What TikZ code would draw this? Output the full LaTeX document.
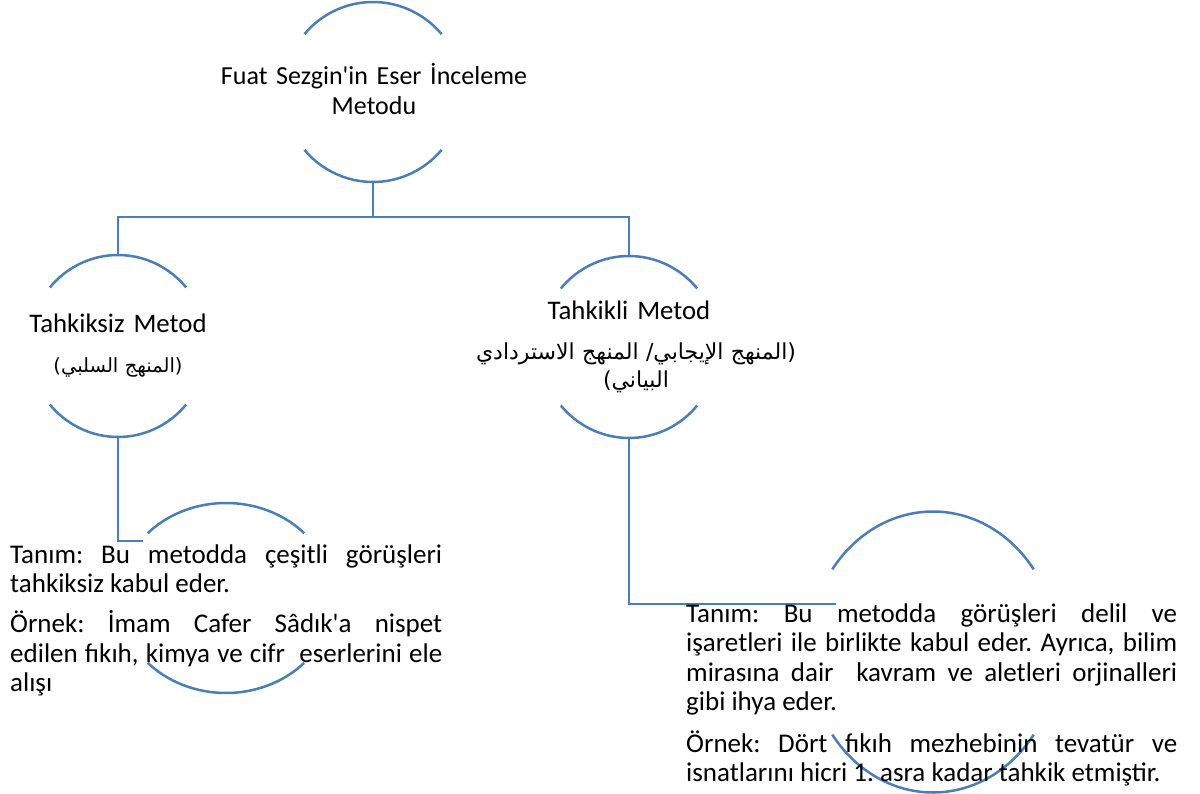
\documentclass[tikz,border=0pt]{standalone}
\usepackage{fontspec}
\setmainfont{Carlito}
\newfontfamily\arabicfont[Script=Arabic]{DejaVu Sans}
\TeXXeTstate=1
\usetikzlibrary{shapes.geometric}
\definecolor{arcblue}{RGB}{74,126,187}
\newcommand\twoarcs[4]{%
  \draw[arcline] (#1.center) ++(#4:#2 and #3) arc[start angle=#4, end angle=180-#4, x radius=#2, y radius=#3];
  \draw[arcline] (#1.center) ++(180+#4:#2 and #3) arc[start angle=180+#4, end angle=360-#4, x radius=#2, y radius=#3];}
\begin{document}
\begin{tikzpicture}[x=1pt,y=1pt,
  arcline/.style={draw=arcblue, line width=2.5pt},
  conn/.style={draw=arcblue, line width=2.8pt},
  holder/.style={ellipse, draw=none, inner sep=0pt, outer sep=0pt},
  lbl/.style={inner sep=0pt, font=\fontsize{26.8}{29}\selectfont, text width=420pt, align=center},
  arab/.style={inner sep=0pt, text width=420pt, align=center},
  body/.style={inner sep=0pt, font=\fontsize{27}{29.5}\selectfont, align=justify}]
\useasboundingbox (0,0) rectangle (1200,-794);

% invisible holders for the arc shapes
\node[holder, minimum width=179pt, minimum height=180pt] (root) at (373,-92) {};
\node[holder, minimum width=178pt, minimum height=182pt] (left) at (118,-346) {};
\node[holder, minimum width=178pt, minimum height=182pt] (right) at (629,-347) {};
\node[holder, minimum width=214pt, minimum height=190pt] (left3) at (226,-598) {};
\node[holder, minimum width=249pt, minimum height=281pt] (right3) at (933,-652) {};

\twoarcs{root}{89.5}{90}{40}
\twoarcs{left}{89}{91}{40}
\twoarcs{right}{89}{91}{40}
\twoarcs{left3}{107}{95}{43}
\twoarcs{right3}{124.5}{140.5}{36}

% connectors
\coordinate (lend) at (143,-541);
\coordinate (rend) at (836,-604);
\draw[conn] (root.south) -- ++(0,-35) coordinate (bar) -| (left.north);
\draw[conn] (bar) -| (right.north);
\draw[conn] (left.south) |- (lend);
\draw[conn] (right.south) |- (rend);

% labels
\node[lbl, anchor=base, font=\fontsize{26}{29.5}\selectfont] (roottxt) at (374,-85) {Fuat Sezgin\textquotesingle in Eser İnceleme\\Metodu};
\node[lbl, anchor=base] (lefttxt) at (118,-333) {Tahkiksiz Metod};
\node[arab, anchor=base, font=\arabicfont\fontsize{19.5}{28}\selectfont] (leftar) at (118,-373) {\beginR(المنهج السلبي)\endR};
\node[lbl, anchor=base] (righttxt) at (629,-320) {Tahkikli Metod};
\node[arab, anchor=base, font=\arabicfont\fontsize{22}{28}\selectfont] (rightar) at (636,-360) {\beginR(المنهج الإيجابي/ المنهج الاستردادي\endR\\\beginR البياني)\endR};

\node[body, anchor=base west, text width=432pt] (ldef) at (10,-563) {\frenchspacing\hyphenpenalty=10000\tolerance=9999\emergencystretch=20pt
Tanım: Bu metodda çeşitli görüşleri\linebreak tahkiksiz kabul eder.\par\vspace{10.5pt}
Örnek: İmam Cafer Sâdık\textquotesingle a nispet\linebreak edilen fıkıh, kimya ve cifr\ \ eserlerini ele\linebreak alışı};

\node[body, anchor=base west, text width=491pt] (rdef) at (686,-622) {\frenchspacing\hyphenpenalty=10000\tolerance=9999\emergencystretch=20pt
Tanım: Bu metodda görüşleri delil ve\linebreak işaretleri ile birlikte kabul eder. Ayrıca, bilim\linebreak mirasına dair\ \ kavram ve aletleri orjinalleri\linebreak gibi ihya eder.\par\vspace{12pt}
Örnek: Dört fıkıh mezhebinin tevatür ve\linebreak isnatlarını hicri 1. asra kadar tahkik etmiştir.};
\end{tikzpicture}
\end{document}
